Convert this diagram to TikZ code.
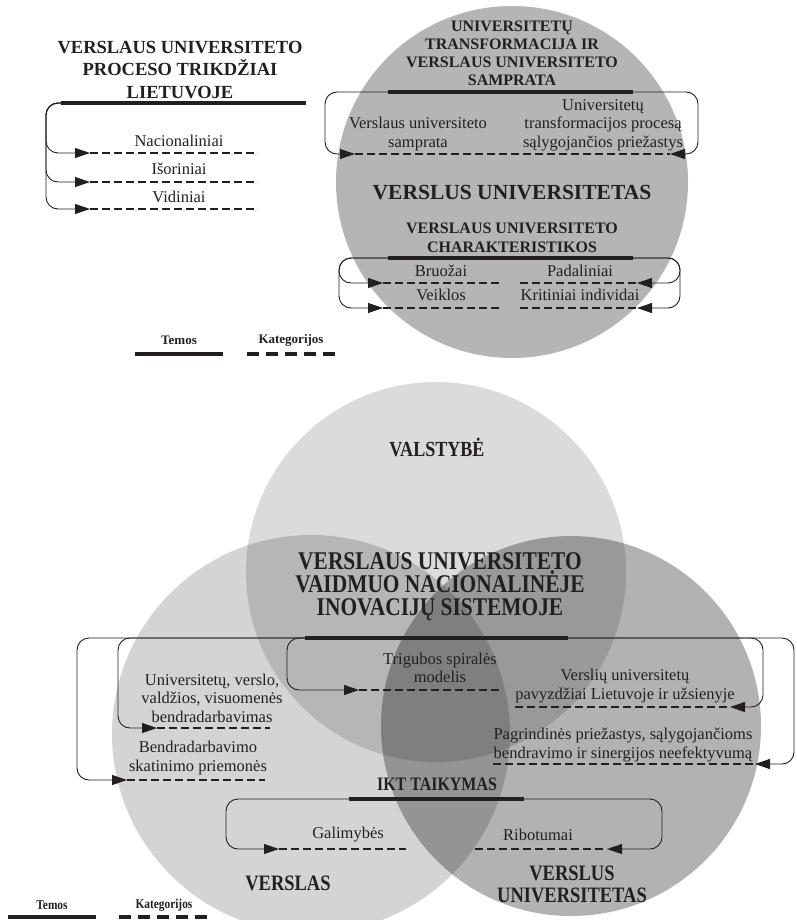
\documentclass[tikz,border=0pt]{standalone}
\usepackage{fontspec}
\setmainfont{Liberation Serif}
\newfontfamily\condfont[FakeStretch=0.84]{Liberation Serif}
\usetikzlibrary{arrows.meta}
\definecolor{ink}{RGB}{35,31,32}
\begin{document}
\begin{tikzpicture}[x=1pt,y=-1pt,
  conn/.style={draw=ink, line width=0.9pt, rounded corners=12pt},
  arr/.style={conn, -{Triangle[length=15pt,width=10pt]}},
  theme/.style={draw=ink, line width=3.3pt},
  categ/.style={draw=ink, line width=2.6pt, dash pattern=on 8pt off 4pt},
  lbl/.style={align=center, text=ink, inner sep=0pt, font=\fontsize{16.5}{18.5}\selectfont},
  hd/.style={align=center, text=ink, inner sep=0pt},
  venn/.style={fill=black, draw=none}
]
\useasboundingbox (0,0) rectangle (796,920);

% ================= UPPER PART =================
\fill[black!29] (512,182) circle (176);

% top-left block
\node[hd, font=\bfseries\fontsize{18.5}{22.5}\selectfont] (tlTitle) at (180,70) {VERSLAUS UNIVERSITETO\\PROCESO TRIKDŽIAI\\LIETUVOJE};
\coordinate (tlA) at (61,103); \coordinate (tlB) at (306,103);
\draw[theme] (tlA) -- (tlB);
\coordinate (tl1) at (90,153); \coordinate (tl1e) at (258,153);
\coordinate (tl2) at (90,182); \coordinate (tl2e) at (258,182);
\coordinate (tl3) at (90,209); \coordinate (tl3e) at (258,209);
\draw[arr] (tlA) -- (46,103) -- (46,153) -- (tl1);
\draw[arr] (tlA) -- (46,103) -- (46,182) -- (tl2);
\draw[arr] (tlA) -- (46,103) -- (46,209) -- (tl3);
\draw[categ] (tl1) -- (tl1e);
\draw[categ] (tl2) -- (tl2e);
\draw[categ] (tl3) -- (tl3e);
\node[lbl] (nac) at (179,141) {Nacionaliniai};
\node[lbl] (isor) at (179,169) {Išoriniai};
\node[lbl] (vid) at (179,197) {Vidiniai};

% top circle contents
\node[hd, font=\bfseries\fontsize{16}{18}\selectfont] (tcTitle) at (512,53) {UNIVERSITETŲ\\TRANSFORMACIJA IR\\VERSLAUS UNIVERSITETO\\SAMPRATA};
\coordinate (tcA) at (388,92); \coordinate (tcB) at (633,92);
\draw[theme] (tcA) -- (tcB);
\coordinate (tcL) at (355,154); \coordinate (tcR) at (670,154);
\draw[arr] (tcA) -- (325,92) -- (325,154) -- (tcL);
\draw[arr] (tcB) -- (698,92) -- (698,154) -- (tcR);
\draw[categ] (tcL) -- (tcR);
\node[lbl] (samp) at (418,134) {Verslaus universiteto\\samprata};
\node[lbl] (prie) at (603,125) {Universitetų\\transformacijos procesą\\sąlygojančios priežastys};
\node[hd, font=\bfseries\fontsize{21.5}{24}\selectfont] (vu) at (512,193) {VERSLUS UNIVERSITETAS};
\node[hd, font=\bfseries\fontsize{16}{19}\selectfont] (char) at (512,238) {VERSLAUS UNIVERSITETO\\CHARAKTERISTIKOS};
\coordinate (chA) at (388,258); \coordinate (chB) at (633,258);
\draw[theme] (chA) -- (chB);
\coordinate (b1) at (383,283); \coordinate (b1e) at (500,283);
\coordinate (b2) at (383,308); \coordinate (b2e) at (500,308);
\coordinate (p1) at (637,283); \coordinate (p1e) at (520,283);
\coordinate (p2) at (637,308); \coordinate (p2e) at (520,308);
\draw[arr] (chA) -- (339,258) -- (339,283) -- (b1);
\draw[arr] (chA) -- (339,258) -- (339,308) -- (b2);
\draw[arr] (chB) -- (680,258) -- (680,283) -- (p1);
\draw[arr] (chB) -- (680,258) -- (680,308) -- (p2);
\draw[categ] (b1) -- (b1e);
\draw[categ] (b2) -- (b2e);
\draw[categ] (p1e) -- (p1);
\draw[categ] (p2e) -- (p2);
\node[lbl] (bru) at (441,271) {Bruožai};
\node[lbl] (pad) at (580,271) {Padaliniai};
\node[lbl] (vei) at (441,295) {Veiklos};
\node[lbl] (krit) at (580,295) {Kritiniai individai};

% legend top
\node[hd, font=\bfseries\fontsize{13}{15}\selectfont] (lgT1) at (179,340) {Temos};
\node[hd, font=\bfseries\fontsize{13}{15}\selectfont] (lgK1) at (291,340) {Kategorijos};
\draw[theme] (135,354) -- (223,354);
\draw[draw=ink, line width=3.3pt, dash pattern=on 12pt off 7pt] (247,354) -- (335,354);

% ================= LOWER PART =================
\fill[venn, fill opacity=0.14] (436,572) circle (190);
\fill[venn, fill opacity=0.17] (311,734) circle (199);
\fill[venn, fill opacity=0.30] (571,726) circle (190);

\node[hd, font=\condfont\bfseries\fontsize{21.5}{23}\selectfont] (val) at (437,447) {VALSTYBĖ};
\node[hd, font=\condfont\bfseries\fontsize{25.5}{23}\selectfont] (main) at (440,587) {VERSLAUS UNIVERSITETO\\VAIDMUO NACIONALINĖJE\\INOVACIJŲ SISTEMOJE};
\coordinate (mA) at (305,638); \coordinate (mB) at (568,638);
\draw[theme] (mA) -- (mB);

\coordinate (l1) at (127,780); \coordinate (l1e) at (265,780);
\coordinate (l2) at (157,728); \coordinate (l2e) at (270,728);
\coordinate (m1) at (359,690); \coordinate (m1e) at (500,690);
\coordinate (r1) at (730,707); \coordinate (r1e) at (515,707);
\coordinate (r2) at (755,764); \coordinate (r2e) at (493,764);
\draw[arr] (mA) -- (77,638) -- (77,780) -- (l1);
\draw[arr] (mA) -- (118,638) -- (118,728) -- (l2);
\draw[arr] (mA) -- (287,638) -- (287,690) -- (m1);
\draw[arr] (mB) -- (763,638) -- (763,707) -- (r1);
\draw[arr] (mB) -- (794,638) -- (794,764) -- (r2);
\draw[categ] (l1) -- (l1e);
\draw[categ] (l2) -- (l2e);
\draw[categ] (m1) -- (m1e);
\draw[categ] (r1e) -- (r1);
\draw[categ] (r2e) -- (r2);

\node[lbl] (ubend) at (212,698) {Universitetų, verslo,\\valdžios, visuomenės\\bendradarbavimas};
\node[lbl] (bskat) at (198,758) {Bendradarbavimo\\skatinimo priemonės};
\node[lbl] (trig) at (440,668) {Trigubos spiralės\\modelis};
\node[lbl] (pavy) at (625,686) {Verslių universitetų\\pavyzdžiai Lietuvoje ir užsienyje};
\node[lbl] (pagr) at (623,745) {Pagrindinės priežastys, sąlygojančioms\\bendravimo ir sinergijos neefektyvumą};

\node[hd, font=\condfont\bfseries\fontsize{19}{20}\selectfont] (ikt) at (437,784) {IKT TAIKYMAS};
\coordinate (iA) at (349,799); \coordinate (iB) at (524,799);
\draw[theme] (iA) -- (iB);
\coordinate (g1) at (279,849); \coordinate (g1e) at (406,849);
\coordinate (rb) at (607,849); \coordinate (rbe) at (475,849);
\draw[arr] (iA) -- (226,799) -- (226,849) -- (g1);
\draw[arr] (iB) -- (662,799) -- (662,849) -- (rb);
\draw[categ] (g1) -- (g1e);
\draw[categ] (rbe) -- (rb);
\node[lbl] (gal) at (348,835) {Galimybės};
\node[lbl] (rib) at (538,835) {Ribotumai};

\node[hd, font=\condfont\bfseries\fontsize{22}{22}\selectfont] (versl) at (288,883) {VERSLAS};
\node[hd, font=\condfont\bfseries\fontsize{22}{22}\selectfont] (vu2) at (572,884) {VERSLUS\\UNIVERSITETAS};

% legend bottom
\node[hd, font=\condfont\bfseries\fontsize{13.5}{15}\selectfont] (lgT2) at (52,905) {Temos};
\node[hd, font=\condfont\bfseries\fontsize{13.5}{15}\selectfont] (lgK2) at (164,905) {Kategorijos};
\draw[theme] (8,917) -- (96,917);
\draw[draw=ink, line width=3.3pt, dash pattern=on 12pt off 7pt] (119,917) -- (208,917);
\end{tikzpicture}
\end{document}
